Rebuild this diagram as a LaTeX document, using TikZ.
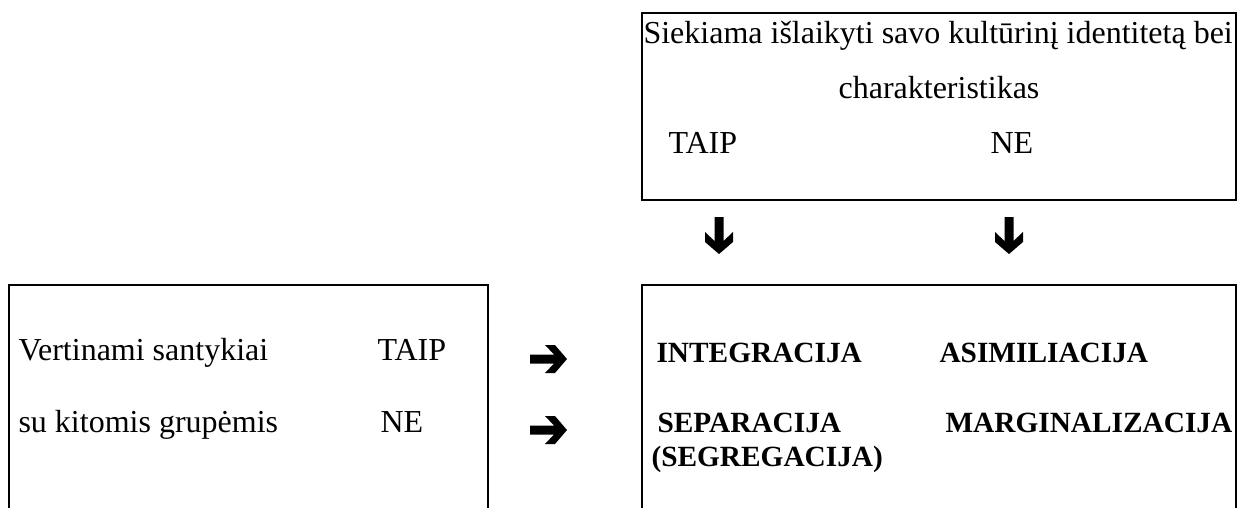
\documentclass[tikz,border=0pt]{standalone}
\usepackage{fontspec}
\setmainfont{Liberation Serif}

\tikzset{
  txt/.style={anchor=base west,inner sep=0pt,font=\fontsize{12}{14}\selectfont},
  boldtxt/.style={anchor=base west,inner sep=0pt,font=\fontsize{11}{13}\selectfont\bfseries},
  boxline/.style={line width=0.75pt},
  fatarrow/.pic={
    \fill (0,-4.5) -- (24,-4.5) -- (15,-14) -- (25,-14) -- (37,0) -- (25,14) -- (15,14) -- (24,4.5) -- (0,4.5) -- cycle;
  }
}

\begin{document}
\begin{tikzpicture}[x=0.375pt,y=0.375pt,yscale=-1,xscale=1]
\useasboundingbox (0,0) rectangle (1238,508);

%Shape: Rectangle (top box)
\draw [boxline] (642,13) rectangle (1236,200) ;
%Shape: Rectangle, open at the bottom (left box)
\draw [boxline] (9,508) -- (9,285) -- (488,285) -- (488,508) ;
%Shape: Rectangle, open at the bottom (right box)
\draw [boxline] (642,508) -- (642,285) -- (1236,285) -- (1236,508) ;

% Text Node
\node [txt] (goal) at (643,43) {Siekiama išlaikyti savo kultūrinį identitetą bei};
% Text Node
\node [txt,anchor=base] (goaltwo) at (939,98) {charakteristikas};
% Text Node
\node [txt] (yestop) at (668,153) {TAIP};
% Text Node
\node [txt] (notop) at (990,153) {NE};

% Text Node
\node [txt] (rel) at (18,360) {Vertinami santykiai};
% Text Node
\node [txt] (yesleft) at (377,360) {TAIP};
% Text Node
\node [txt] (reltwo) at (18,432) {su kitomis grupėmis};
% Text Node
\node [txt] (noleft) at (380,432) {NE};

% Text Node
\node [boldtxt] (integ) at (656,362) {INTEGRACIJA};
% Text Node
\node [boldtxt] (asim) at (939,362) {ASIMILIACIJA};
% Text Node
\node [boldtxt] (sep) at (657,432) {SEPARACIJA};
% Text Node
\node [boldtxt] (segr) at (651,466) {(SEGREGACIJA)};
% Text Node
\node [boldtxt] (marg) at (945,432) {MARGINALIZACIJA};

%Arrows down
\coordinate (dnyes) at (719,217);
\coordinate (dnno) at (1009,217);
\pic [rotate=-90] at (dnyes) {fatarrow};
\pic [rotate=-90] at (dnno) {fatarrow};
%Arrows right
\coordinate (rtyes) at (530,359);
\coordinate (rtno) at (530,430);
\pic at (rtyes) {fatarrow};
\pic at (rtno) {fatarrow};

\end{tikzpicture}
\end{document}
